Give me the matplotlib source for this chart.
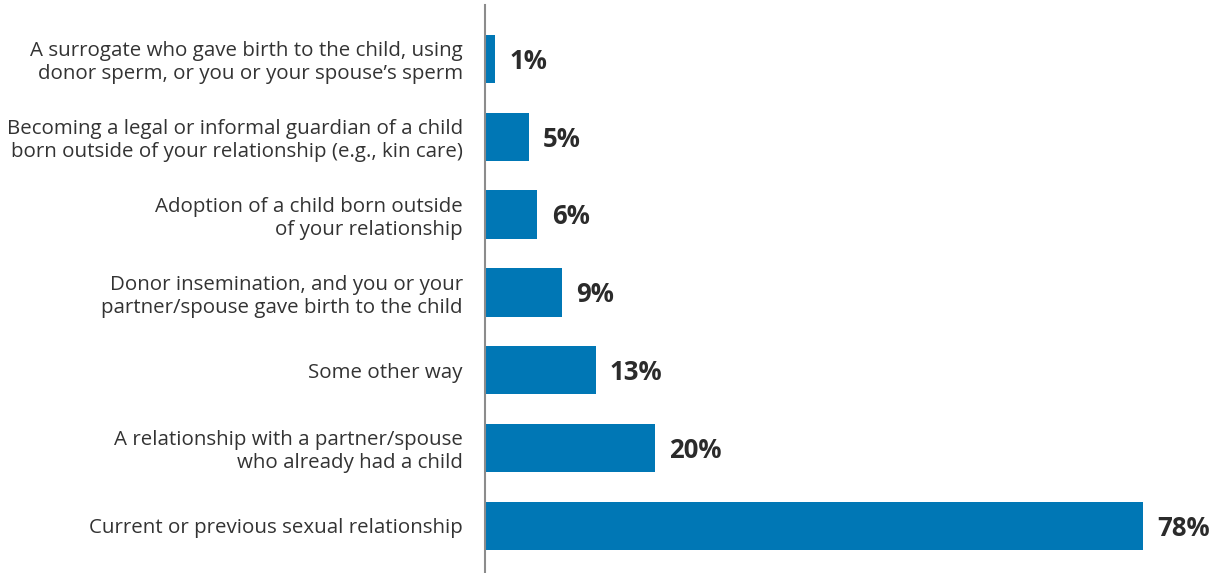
import matplotlib.pyplot as plt

# data
categories = [
    "A surrogate who gave birth to the child, using\ndonor sperm, or you or your spouse\u2019s sperm",
    "Becoming a legal or informal guardian of a child\nborn outside of your relationship (e.g., kin care)",
    "Adoption of a child born outside\nof your relationship",
    "Donor insemination, and you or your\npartner/spouse gave birth to the child",
    "Some other way",
    "A relationship with a partner/spouse\nwho already had a child",
    "Current or previous sexual relationship",
]
values = [1.2, 5.2, 6.2, 9.1, 13.1, 20.1, 78]
value_labels = ["1%", "5%", "6%", "9%", "13%", "20%", "78%"]

plt.rcParams['font.family'] = ['Open Sans', 'DejaVu Sans']

fig = plt.figure(figsize=(12.21, 5.73), dpi=100)
ax = fig.add_axes([485 / 1221, 0, 736 / 1221, 568 / 573])

pos = list(range(len(categories)))
ax.barh(pos, values, height=0.62, color='#0077b5')
for p, v, lab in zip(pos, values, value_labels):
    ax.text(v + 1.7, p + 0.03, lab, va='center', ha='left', fontsize=18.5,
            fontweight='bold', color='#2b2b2b')

ax.set_xlim(0, 736 / 8.44)
ax.set_ylim(-0.694 + 568 / 77.8, -0.694)
ax.set_yticks(pos)
ax.set_yticklabels(categories, fontsize=14.75, color='#333333', linespacing=1.2)
ax.tick_params(axis='y', length=0, pad=16)
ax.set_xticks([])
for s in ['top', 'right', 'bottom']:
    ax.spines[s].set_visible(False)
ax.spines['left'].set_color('#8c8c8c')
ax.spines['left'].set_linewidth(1.5)

fig.savefig('out.png', dpi=100)
